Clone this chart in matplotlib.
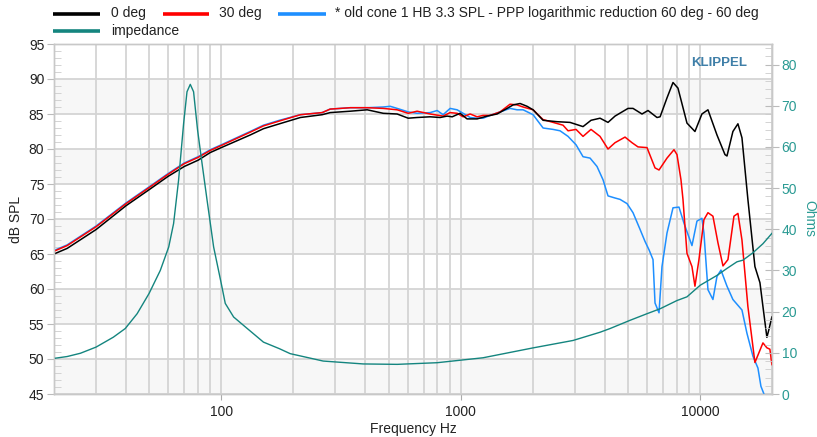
import matplotlib
matplotlib.use("Agg")
import matplotlib.pyplot as plt
from matplotlib.lines import Line2D
from matplotlib.ticker import FixedLocator, NullFormatter, FixedFormatter, MultipleLocator

# ---------------- data ----------------
f_0deg = [20, 22.7, 30, 40, 50, 60, 70, 80, 90, 100, 132, 150, 175, 214, 264, 285, 346, 407, 475,
          543, 604, 658, 746, 821, 878, 922, 995, 1064, 1172, 1290, 1420, 1564, 1657, 1772, 1895,
          2008, 2211, 2529, 2865, 3247, 3506, 3824, 4129, 4417, 5006, 5252, 5726, 6067, 6615, 6815,
          7283, 7716, 8093, 8826, 9530, 10190, 10800, 11780, 12720, 12970, 13730, 14410, 14980,
          15860, 16970, 17810, 18330, 19040, 19410, 19980]
spl_0deg = [65.0, 65.8, 68.5, 71.9, 74.2, 76.1, 77.5, 78.4, 79.5, 80.2, 82.0, 82.9, 83.6, 84.5, 84.9,
            85.2, 85.4, 85.6, 85.1, 85.0, 84.4, 84.5, 84.6, 84.5, 84.7, 84.6, 85.1, 84.3, 84.3, 84.7,
            85.0, 85.8, 86.3, 86.5, 86.1, 85.6, 84.1, 83.9, 83.8, 83.2, 84.1, 84.4, 83.8, 84.7, 85.8,
            85.8, 85.0, 85.5, 84.5, 84.6, 87.3, 89.5, 88.7, 83.7, 82.5, 85.0, 85.6, 82.0, 79.2, 79.0,
            82.5, 83.6, 81.6, 72.8, 63.2, 60.9, 57.5, 53.1, 54.2, 56.0]

f_30deg = [20, 22.7, 30, 40, 50, 60, 70, 80, 90, 100, 132, 150, 175, 214, 264, 285, 346, 407, 475,
           543, 604, 658, 746, 845, 904, 967, 1024, 1096, 1172, 1241, 1328, 1462, 1609, 1721, 1824,
           2008, 2211, 2434, 2679, 2811, 3036, 3247, 3506, 3824, 4129, 4417, 4863, 5201, 5510, 6008,
           6490, 6745, 7283, 7790, 8017, 8331, 8493, 8826, 9260, 9530, 9904, 10390, 10800, 11330,
           11890, 12480, 13090, 13870, 14410, 14980, 15860, 16970, 17640, 18330, 19040, 19600, 19980]
spl_30deg = [65.4, 66.2, 68.9, 72.2, 74.5, 76.4, 77.9, 78.8, 79.8, 80.5, 82.4, 83.3, 84.0, 84.9, 85.2,
             85.7, 85.9, 85.9, 85.8, 85.6, 85.1, 85.4, 85.0, 84.7, 85.2, 85.1, 84.6, 85.0, 84.6, 84.8,
             84.8, 85.3, 86.4, 86.3, 86.0, 85.6, 84.2, 83.8, 83.4, 82.6, 82.8, 81.8, 82.8, 81.8, 80.0,
             80.9, 81.7, 80.9, 80.3, 80.2, 77.3, 77.0, 78.7, 79.9, 79.2, 75.6, 72.8, 65.1, 63.2, 60.4,
             64.2, 69.9, 70.9, 70.4, 66.6, 63.3, 64.2, 70.4, 70.8, 67.0, 57.5, 49.5, 50.9, 52.3, 51.6,
             51.4, 49.2]

f_60deg = [20, 22.7, 30, 40, 50, 60, 70, 80, 90, 100, 132, 150, 175, 214, 264, 285, 346, 407, 475,
           508, 543, 604, 658, 746, 798, 845, 904, 967, 1024, 1096, 1172, 1241, 1328, 1462, 1609,
           1721, 1824, 2008, 2211, 2434, 2603, 2811, 3036, 3247, 3474, 3715, 3936, 4129, 4417, 4637,
           4958, 5252, 5622, 5894, 6126, 6366, 6490, 6745, 6940, 7283, 7716, 8172, 8575, 9260, 9716,
           10190, 10390, 10800, 11330, 11780, 12240, 12970, 13730, 14980, 15710, 16650, 17470,
           17980, 18510, 19980]
spl_60deg = [65.5, 66.3, 69.0, 72.3, 74.6, 76.5, 78.0, 78.9, 79.9, 80.6, 82.5, 83.4, 84.1, 84.9, 85.2,
             85.7, 85.9, 85.9, 86.0, 86.1, 85.8, 85.3, 85.1, 85.2, 85.5, 84.9, 85.8, 85.6, 85.1, 84.5,
             84.4, 84.4, 84.8, 85.3, 85.8, 85.6, 85.6, 84.9, 83.0, 82.8, 82.6, 81.8, 80.6, 78.9, 78.7,
             77.5, 75.6, 73.3, 73.0, 72.8, 72.2, 70.9, 68.5, 66.8, 65.6, 64.2, 58.0, 56.6, 63.2, 68.0,
             71.6, 71.7, 69.4, 66.2, 69.7, 70.1, 68.0, 59.9, 58.5, 61.8, 62.7, 60.4, 58.5, 57.0, 53.7,
             50.4, 48.7, 46.1, 45.0, 41.0]

f_imp = [20.3, 22.7, 25.8, 30, 35.4, 39.7, 44.5, 49.9, 55.6, 60.3, 63.2, 66.3, 69.6, 71.9, 74.2,
         76.6, 79.6, 83.1, 87.2, 92.9, 100, 103.9, 112.6, 128.4, 150, 175, 194, 266.6, 391.6, 543,
         798, 995, 1241, 2008, 2949, 3824, 4212, 5106, 6008, 6815, 8017, 8826, 10016, 11780, 12970,
         14270, 15120, 16650, 18330, 19980]
ohm_imp = [8.7, 9.1, 9.9, 11.4, 13.8, 15.9, 19.5, 24.4, 30.0, 35.7, 41.4, 51.9, 65.7, 73.4, 75.2,
           73.4, 64.1, 56.0, 47.1, 35.7, 26.8, 22.0, 18.7, 15.9, 12.6, 11.0, 9.8, 8.0, 7.3, 7.2,
           7.6, 8.2, 8.8, 11.2, 13.0, 15.0, 15.9, 17.9, 19.5, 20.7, 22.7, 23.6, 26.4, 28.8, 30.5,
           32.1, 32.5, 34.3, 36.5, 39.0]

legend_labels = ["0 deg", "30 deg",
                 "* old cone 1 HB 3.3 SPL - PPP logarithmic reduction 60 deg - 60 deg",
                 "impedance"]
x_tick_vals = [100, 1000, 10000]
x_tick_labels = ["100", "1000", "10000"]

# ---------------- style ----------------
C_BLACK = "#000000"
C_RED = "#ff0000"
C_BLUE = "#1e8fff"
C_TEAL = "#14857f"
C_TEAL_TXT = "#2a9a93"
C_GRID = "#d4d4d4"
C_BAND = "#f7f7f7"
C_TXT = "#222222"

plt.rcParams['font.family'] = ['Liberation Sans', 'DejaVu Sans']

fig = plt.figure(figsize=(8.17, 4.37), dpi=100)
ax = fig.add_axes([54/817, 43/437, 718/817, 350/437])
ax2 = ax.twinx()

ax.set_xscale('log')
ax.set_xlim(20, 20000)
ax.set_ylim(45, 95)
ax2.set_ylim(0, 85)

# bands
for lo in range(45, 95, 10):
    ax.axhspan(lo, lo + 5, color=C_BAND, zorder=0, lw=0)

# grid
ax.xaxis.set_major_locator(FixedLocator(x_tick_vals))
ax.xaxis.set_major_formatter(FixedFormatter(x_tick_labels))
minor = [m * d for d in (10, 100, 1000, 10000) for m in range(2, 10) if 20 <= m * d <= 20000]
ax.xaxis.set_minor_locator(FixedLocator(minor))
ax.xaxis.set_minor_formatter(NullFormatter())
ax.yaxis.set_major_locator(MultipleLocator(5))
ax.yaxis.set_minor_locator(MultipleLocator(1))
ax.grid(True, which='major', axis='both', color=C_GRID, lw=1.3, zorder=1)
ax.grid(True, which='minor', axis='x', color=C_GRID, lw=1.3, zorder=1)
ax.set_axisbelow(True)

ax.tick_params(axis='x', which='major', length=4, color='#aaaaaa', labelsize=10, labelcolor=C_TXT, pad=4)
ax.tick_params(axis='x', which='minor', length=0)
ax.tick_params(axis='y', which='major', direction='out', length=5, color='#bbbbbb', labelsize=10,
               labelcolor=C_TXT, pad=2)
ax.tick_params(axis='y', which='minor', direction='in', length=5, color='#cccccc')

ax2.yaxis.set_major_locator(MultipleLocator(10))
ax2.yaxis.set_minor_locator(MultipleLocator(2))
ax2.tick_params(axis='y', which='major', direction='inout', length=10, color='#bbbbbb', labelsize=10,
                labelcolor=C_TEAL_TXT, pad=2)
ax2.tick_params(axis='y', which='minor', direction='in', length=5, color='#cccccc')

for a in (ax, ax2):
    for s in a.spines.values():
        s.set_color('#c8c8c8')
        s.set_linewidth(1.0)

# curves
ax.plot(f_60deg, spl_60deg, color=C_BLUE, lw=1.1, zorder=4)
ax.plot(f_30deg, spl_30deg, color=C_RED, lw=1.1, zorder=5)
ax.plot(f_0deg, spl_0deg, color=C_BLACK, lw=1.1, zorder=6)
ax2.plot(f_imp, ohm_imp, color=C_TEAL, lw=1.0, zorder=3)

ax.set_xlabel("Frequency Hz", fontsize=10, color=C_TXT, labelpad=2)
ax.set_ylabel("dB SPL", fontsize=10, color=C_TXT, labelpad=4)
ax2.set_ylabel("Ohms", fontsize=10, color=C_TEAL_TXT, rotation=270, labelpad=14)

ax2.text(0.966, 0.946, "KLIPPEL", transform=ax.transAxes, ha='right', va='center',
         fontsize=9.5, fontweight='bold', color='#3f7fa8', zorder=10)

# legend (manual, pixel layout of the reference)
colors = [C_BLACK, C_RED, C_BLUE, C_TEAL]
pos = [(53, 100, 111, 13.5), (163, 209, 219, 13.5), (278, 326, 335, 13.5), (53, 100, 111, 31)]
for (x0, x1, xt, y), c, lab in zip(pos, colors, legend_labels):
    yy = 1 - y / 437
    fig.add_artist(Line2D([x0 / 817, x1 / 817], [yy, yy], color=c, lw=2.6, transform=fig.transFigure,
                          solid_capstyle='butt'))
    fig.text(xt / 817, yy, lab, ha='left', va='center', fontsize=10, color=C_TXT)

fig.savefig("out.png", dpi=100, facecolor='white')
